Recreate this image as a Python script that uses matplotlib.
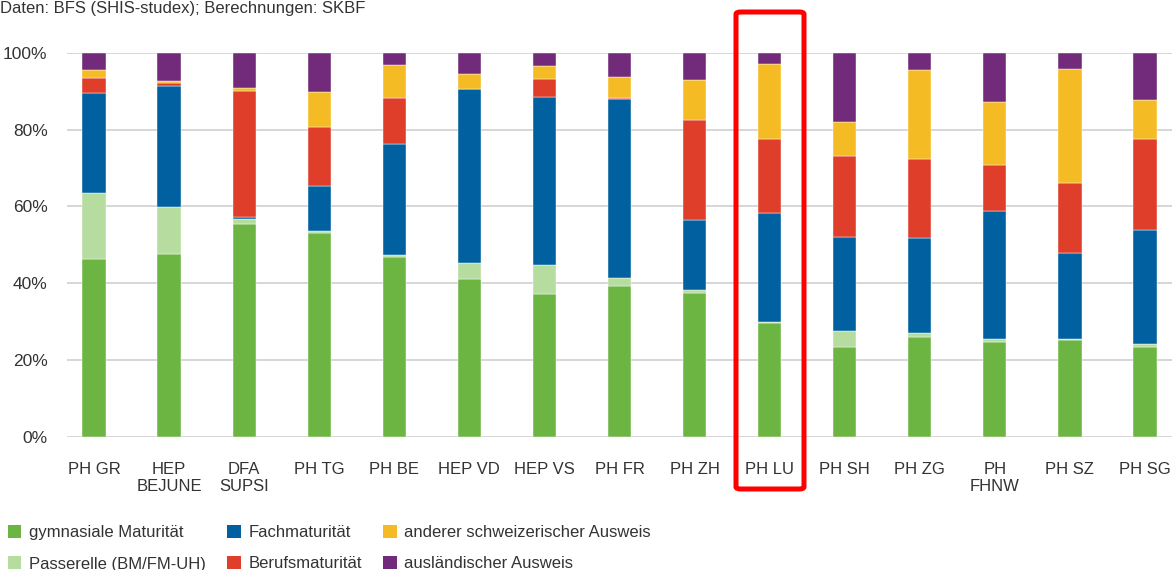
import numpy as np
import matplotlib
matplotlib.use("Agg")
import matplotlib.pyplot as plt
from matplotlib.patches import FancyBboxPatch, Patch

plt.rcParams['font.family'] = ['Liberation Sans', 'DejaVu Sans']

# Hochschulen (x-Achse)
schools = ['PH GR', 'HEP\nBEJUNE', 'DFA\nSUPSI', 'PH TG', 'PH BE', 'HEP VD', 'HEP VS',
           'PH FR', 'PH ZH', 'PH LU', 'PH SH', 'PH ZG', 'PH\nFHNW', 'PH SZ', 'PH SG']

# Anteile in %
gymnasial  = [46.3, 47.6, 55.4, 53.0, 46.7, 41.0, 37.2, 39.3, 37.4, 29.5, 23.4, 26.0, 24.7, 25.3, 23.4]
passerelle = [17.1, 12.3,  1.3,  0.6,  0.5,  4.3,  7.4,  2.0,  0.8,  0.5,  4.1,  1.1,  0.8,  0.2,  0.7]
fachmat    = [26.0, 31.5,  0.5, 11.8, 29.0, 45.2, 43.9, 46.7, 18.3, 28.2, 24.5, 24.7, 33.2, 22.3, 29.6]
berufsmat  = [ 3.9,  0.8, 32.8, 15.3, 12.0,  0.1,  4.6,  0.2, 26.0, 19.2, 21.1, 20.5, 12.0, 18.2, 23.8]
anderer    = [ 2.2,  0.5,  0.9,  9.1,  8.5,  3.9,  3.4,  5.6, 10.5, 19.6,  8.8, 23.3, 16.5, 29.8, 10.3]
auslaend   = [ 4.5,  7.3,  9.1, 10.2,  3.3,  5.5,  3.5,  6.2,  7.0,  3.0, 18.1,  4.4, 12.8,  4.2, 12.2]

series = [
    ('gymnasiale Maturität', gymnasial, '#6db543'),
    ('Passerelle (BM/FM-UH)', passerelle, '#b6dca0'),
    ('Fachmaturität', fachmat, '#0060a0'),
    ('Berufsmaturität', berufsmat, '#de3e2a'),
    ('anderer schweizerischer Ausweis', anderer, '#f5bb24'),
    ('ausländischer Ausweis', auslaend, '#722a7a'),
]

W, H = 1173, 570
fig = plt.figure(figsize=(W / 100, H / 100), dpi=100)
ax = fig.add_axes([67 / W, 133.3 / H, (1172 - 67) / W, (436.7 - 52.7) / H])

x = np.arange(len(schools))
bottom = np.zeros(len(schools))
for name, vals, col in series:
    vals = np.array(vals)
    ax.bar(x, vals, width=0.31, bottom=bottom, color=col, label=name, zorder=3,
           edgecolor='white', linewidth=0.3)
    bottom += vals

ax.set_xlim(-0.36, len(schools) - 1 + 0.36)
ax.set_ylim(0, 100)
ax.set_yticks(range(0, 101, 20))
ax.set_yticklabels([f'{v}%' for v in range(0, 101, 20)])
ax.set_xticks(x)
ax.set_xticklabels(schools, linespacing=1.2)
ax.grid(axis='y', color='#cccccc', lw=1.1, zorder=0)
for s in ax.spines.values():
    s.set_visible(False)
ax.tick_params(length=0, colors='#333333')
ax.tick_params(axis='x', pad=18, labelsize=12)
ax.tick_params(axis='y', pad=14, labelsize=12.5)

fig.text(0.0, 1 - 8 / H, 'Daten: BFS (SHIS-studex); Berechnungen: SKBF',
         fontsize=12, color='#333333', va='center', ha='left')

# Markierung PH LU
rect = FancyBboxPatch((736 / W, 1 - 489 / H), 68 / W, 477 / H,
                      boxstyle='round,pad=0,rounding_size=0.004',
                      transform=fig.transFigure, fill=False, edgecolor='#ff0000',
                      lw=3.6, zorder=10)
fig.patches.append(rect)

handles = [Patch(facecolor=c, label=n) for n, _, c in series]
leg = fig.legend(handles=handles, ncol=3, loc='upper left',
                 bbox_to_anchor=(8 / W, 1 - 525 / H), frameon=False, fontsize=12,
                 handlelength=0.8, handleheight=0.8, handletextpad=0.45,
                 columnspacing=1.3, labelspacing=0.97, borderaxespad=0, borderpad=0)
for t in leg.get_texts():
    t.set_color('#333333')

fig.savefig('out.png', dpi=100)
